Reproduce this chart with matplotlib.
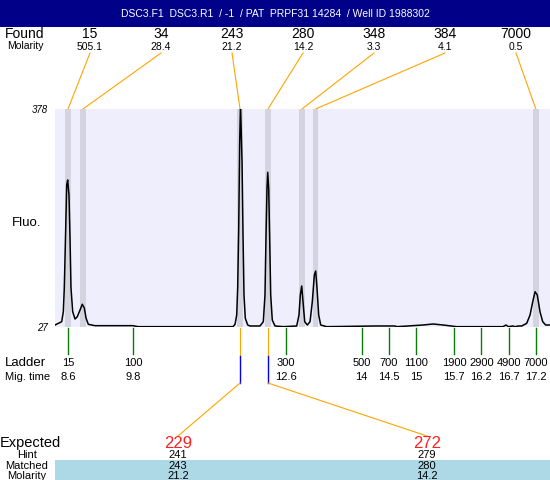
import matplotlib
matplotlib.use('Agg')
import matplotlib.pyplot as plt
from matplotlib.patches import Rectangle

plt.rcParams['font.family'] = ['Liberation Sans', 'DejaVu Sans']

title = 'DSC3.F1  DSC3.R1  / -1  / PAT  PRPF31 14284  / Well ID 1988302'

# found peaks (size, molarity, migration time)
found_size = [15, 34, 243, 280, 348, 384, 7000]
found_molarity = [505.1, 28.4, 21.2, 14.2, 3.3, 4.1, 0.5]
found_time = [8.6, 8.876, 11.762, 12.276, 12.901, 13.15, 17.2]

# ladder
ladder_size = [15, 100, 300, 500, 700, 1100, 1900, 2900, 4900, 7000]
ladder_time = [8.6, 9.8, 12.6, 14, 14.5, 15, 15.7, 16.2, 16.7, 17.2]

# expected / matched table
expected = [229, 272]
hint = [241, 279]
matched = [243, 280]
matched_molarity = [21.2, 14.2]
matched_time = [11.762, 12.276]

# electropherogram trace
trace_time = [8.361, 8.484, 8.514, 8.532, 8.558, 8.576, 8.594, 8.618, 8.637, 8.655,
              8.686, 8.729, 8.771, 8.821, 8.863, 8.900, 8.931, 8.973, 9.096, 9.795,
              9.887, 11.026, 11.633, 11.670, 11.701, 11.719, 11.738, 11.756, 11.771, 11.799,
              11.817, 11.835, 11.859, 11.903, 11.946, 12.129, 12.190, 12.221, 12.240, 12.258,
              12.271, 12.289, 12.307, 12.326, 12.355, 12.405, 12.558, 12.804, 12.846, 12.870,
              12.896, 12.920, 12.951, 12.999, 13.049, 13.091, 13.128, 13.153, 13.177, 13.208,
              13.245, 13.355, 14.243, 14.611, 14.642, 14.850, 15.126, 15.310, 15.493, 15.745,
              16.596, 16.651, 16.694, 16.775, 16.817, 16.878, 16.940, 17.032, 17.093, 17.143,
              17.185, 17.226, 17.276, 17.326, 17.381, 17.46]
trace_fluo = [30.7, 36.0, 52.1, 90.2, 186.7, 255.8, 263.9, 239.7, 170.6, 90.2,
              52.1, 40.3, 44.0, 54.8, 64.0, 58.0, 42.0, 31.8, 29.6, 29.6,
              28.0, 28.0, 28.0, 31.8, 46.8, 90.2, 186.7, 325.4, 385.0, 293.3,
              175.4, 79.0, 41.5, 30.7, 29.1, 29.1, 36.0, 79.0, 175.4, 250.5,
              276.2, 250.5, 170.1, 79.0, 38.7, 29.1, 28.0, 29.1, 46.8, 79.0,
              93.4, 68.2, 36.0, 30.7, 36.0, 68.2, 111.1, 117.5, 90.2, 46.8,
              30.7, 28.0, 29.1, 29.1, 28.0, 29.1, 30.7, 32.3, 30.7, 28.0,
              28.0, 30.7, 28.0, 29.1, 28.0, 29.1, 29.1, 33.4, 46.8, 68.2,
              84.2, 79.0, 52.1, 36.0, 30.7, 30.7]

W, H = 550, 480
fig = plt.figure(figsize=(W / 100, H / 100), dpi=100)

ov = fig.add_axes([0, 0, 1, 1], zorder=0)
ov.set_xlim(0, W)
ov.set_ylim(H, 0)
ov.axis('off')

ax = fig.add_axes([55 / W, (H - 327.3) / H, (W - 55) / W, (327.3 - 109) / H], zorder=1)
ax.set_facecolor('#eeeefd')
ax.set_xlim(8.361, 17.46)
ax.set_ylim(27, 378)
for s in ax.spines.values():
    s.set_visible(False)
ax.set_xticks([])
ax.set_yticks([27, 378])
ax.set_yticklabels(['27', '378'], style='italic')
ax.tick_params(axis='y', length=0, pad=5, labelsize=7)

for t in found_time:
    ax.axvspan(t - 0.052, t + 0.052, color='#d4d4e0', lw=0, zorder=1)
ax.plot(trace_time, trace_fluo, color='black', lw=1.1, zorder=3, clip_on=True)


def px(t, v):
    d = ax.transData.transform((t, v))
    return d[0], H - d[1]


# title bar
ov.add_patch(Rectangle((0, 0), W, 27, color='#000088', lw=0))
ov.text(W / 2, 14, title, color='white', ha='center', va='center', fontsize=7.5)

# found row
ov.text(5, 34, 'Found', ha='left', va='center', fontsize=10)
ov.text(7, 46, 'Molarity', ha='left', va='center', fontsize=7.5)
for i, (sz, mol, t) in enumerate(zip(found_size, found_molarity, found_time)):
    lx = 90 + 71 * i
    ov.text(lx, 34, str(sz), ha='center', va='center', fontsize=10)
    ov.text(lx, 47, f'{mol:.1f}', ha='center', va='center', fontsize=7.5)
    x1, y1 = px(t, 378)
    ov.plot([lx, x1], [53, y1], color='#ffa500', lw=0.8)

ov.text(12, 223, 'Fluo.', ha='left', va='center', fontsize=9.5)

# ladder
ov.text(5, 363, 'Ladder', ha='left', va='center', fontsize=9.5)
ov.text(5, 377, 'Mig. time', ha='left', va='center', fontsize=8)
for sz, t in zip(ladder_size, ladder_time):
    x0, y0 = px(t, 27)
    ov.plot([x0, x0], [y0 + 1, 354], color='#0a7a0a', lw=1)
    ov.text(x0, 363, str(sz), ha='center', va='center', fontsize=8)
    ov.text(x0, 377, f'{t:g}', ha='center', va='center', fontsize=8)

# expected table
ov.add_patch(Rectangle((55, 460), W - 55, 20, color='#add8e6', lw=0))
ov.text(0, 443, 'Expected', ha='left', va='center', fontsize=10.5)
ov.text(27, 455, 'Hint', ha='center', va='center', fontsize=8)
ov.text(27, 466, 'Matched', ha='center', va='center', fontsize=8)
ov.text(27, 476, 'Molarity', ha='center', va='center', fontsize=8)
col_x = [178, 427]
for cx, e, h, m, mm, t in zip(col_x, expected, hint, matched, matched_molarity, matched_time):
    x0, y0 = px(t, 27)
    ov.plot([x0, x0], [y0 + 1, 356], color='#ffa500', lw=0.8)
    ov.plot([x0, x0], [356, 383], color='#0000ff', lw=1)
    ov.plot([x0, cx], [383, 436], color='#ffa500', lw=0.8)
    ov.text(cx, 443, str(e), ha='center', va='center', fontsize=12, color='#ff2020')
    ov.text(cx, 455, str(h), ha='center', va='center', fontsize=8)
    ov.text(cx, 466, str(m), ha='center', va='center', fontsize=8)
    ov.text(cx, 476, f'{mm:.1f}', ha='center', va='center', fontsize=8)

fig.savefig('out.png', dpi=100)
